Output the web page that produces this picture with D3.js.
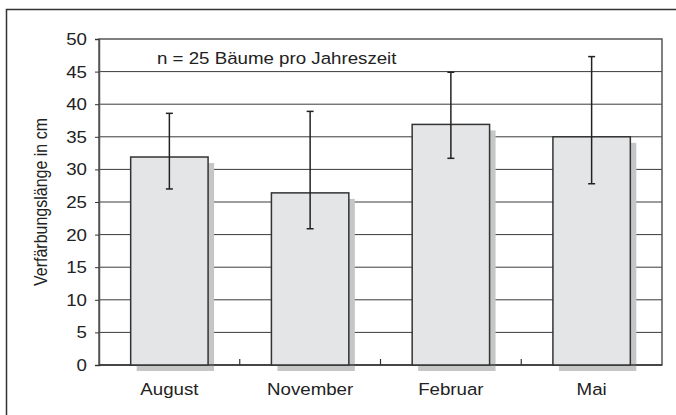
<!DOCTYPE html>
<html>
<head>
<meta charset="utf-8">
<script src="https://cdn.jsdelivr.net/npm/d3@7"></script>
<style>
  html, body { margin: 0; padding: 0; background: #fff; }
  svg { display: block; font-family: "Liberation Sans", Arial, Helvetica, sans-serif; }
</style>
</head>
<body>
<svg id="chart" width="676" height="415"></svg>
<script>
// Verfärbungslänge je Jahreszeit (Mittelwert mit Streuung)
const seasons = ["August", "November", "Februar", "Mai"];
const meanLength = [31.9, 26.4, 36.9, 35.0];
const upperLength = [38.6, 38.9, 44.9, 47.3];
const lowerLength = [27.0, 20.9, 31.7, 27.8];
const yTicks = [0, 5, 10, 15, 20, 25, 30, 35, 40, 45, 50];
const noteText = "n = 25 Bäume pro Jahreszeit";
const yTitle = "Verfärbungslänge in cm";

const svg = d3.select("#chart");
const plot = { left: 99, right: 662, top: 39, bottom: 365 };
const textWiden = 1.1; // slightly wide lettering

// outer frame (runs off the right and bottom edge)
svg.append("rect")
  .attr("x", 6.5).attr("y", 9.5)
  .attr("width", 700).attr("height", 430)
  .attr("fill", "none").attr("stroke", "#333").attr("stroke-width", 1.5);

const x = d3.scaleBand().domain(seasons).range([plot.left, plot.right]).paddingInner(0).paddingOuter(0);
const y = d3.scaleLinear().domain([0, 50]).range([plot.bottom, plot.top]);

// horizontal grid
svg.append("g").selectAll("line").data(yTicks.filter(d => d > 0 && d < 50)).join("line")
  .attr("x1", plot.left).attr("x2", plot.right)
  .attr("y1", d => y(d)).attr("y2", d => y(d))
  .attr("stroke", "#3a3a3a").attr("stroke-width", 1);

// plot border
svg.append("rect")
  .attr("x", plot.left).attr("y", plot.top)
  .attr("width", plot.right - plot.left).attr("height", plot.bottom - plot.top)
  .attr("fill", "none").attr("stroke", "#555").attr("stroke-width", 1.5);

// y axis
const yAxis = d3.axisLeft(y).tickValues(yTicks).tickSize(4).tickPadding(8);
const gy = svg.append("g").attr("transform", `translate(${plot.left},0)`).call(yAxis);
gy.select(".domain").attr("stroke", "#555").attr("stroke-width", 1.5);
gy.selectAll(".tick line").attr("stroke", "#333");
gy.selectAll(".tick text")
  .attr("font-size", 17).attr("fill", "#222")
  .attr("font-family", "Liberation Sans, Arial, sans-serif")
  .attr("transform", function () {
    const tx = +d3.select(this).attr("x");
    return `translate(${tx},0) scale(${textWiden},1) translate(${-tx},0)`;
  });

// category boundary ticks on the baseline
const boundaries = seasons.slice(1).map(s => x(s));
svg.append("g").selectAll("line").data(boundaries).join("line")
  .attr("x1", d => d).attr("x2", d => d)
  .attr("y1", plot.bottom).attr("y2", plot.bottom - 6)
  .attr("stroke", "#333").attr("stroke-width", 1.2);

const bw = x.bandwidth() * 0.55;
const cx = s => x(s) + x.bandwidth() / 2;

// bar shadows
svg.append("g").selectAll("rect").data(seasons).join("rect")
  .attr("x", s => cx(s) - bw / 2 + 6)
  .attr("y", (s, i) => y(meanLength[i]) + 6)
  .attr("width", bw)
  .attr("height", (s, i) => y(0) - y(meanLength[i]))
  .attr("fill", "#c6c6c6");

// baseline over the shadows
svg.append("line")
  .attr("x1", plot.left).attr("x2", plot.right)
  .attr("y1", plot.bottom).attr("y2", plot.bottom)
  .attr("stroke", "#333").attr("stroke-width", 1.5);

// bars
svg.append("g").selectAll("rect").data(seasons).join("rect")
  .attr("x", s => cx(s) - bw / 2)
  .attr("y", (s, i) => y(meanLength[i]))
  .attr("width", bw)
  .attr("height", (s, i) => y(0) - y(meanLength[i]))
  .attr("fill", "#e4e5e7").attr("stroke", "#333").attr("stroke-width", 1.5);

// error bars
const eb = svg.append("g").attr("stroke", "#222").attr("stroke-width", 1.5);
seasons.forEach((s, i) => {
  eb.append("line").attr("x1", cx(s)).attr("x2", cx(s))
    .attr("y1", y(upperLength[i])).attr("y2", y(lowerLength[i]));
  [upperLength[i], lowerLength[i]].forEach(v => {
    eb.append("line").attr("x1", cx(s) - 3.5).attr("x2", cx(s) + 3.5)
      .attr("y1", y(v)).attr("y2", y(v));
  });
});

// category labels
svg.append("g").selectAll("text").data(seasons).join("text")
  .attr("transform", s => `translate(${cx(s)},${plot.bottom + 30}) scale(${textWiden},1)`)
  .attr("text-anchor", "middle").attr("font-size", 17).attr("fill", "#222")
  .text(s => s);

// sample size note
svg.append("text")
  .attr("transform", `translate(157,64) scale(${textWiden},1)`)
  .attr("font-size", 17).attr("fill", "#222")
  .text(noteText);

// y axis title
svg.append("text")
  .attr("transform", `translate(47,${(plot.top + plot.bottom) / 2}) rotate(-90) scale(1,${textWiden})`)
  .attr("text-anchor", "middle").attr("font-size", 16).attr("fill", "#222")
  .text(yTitle);
</script>
</body>
</html>
